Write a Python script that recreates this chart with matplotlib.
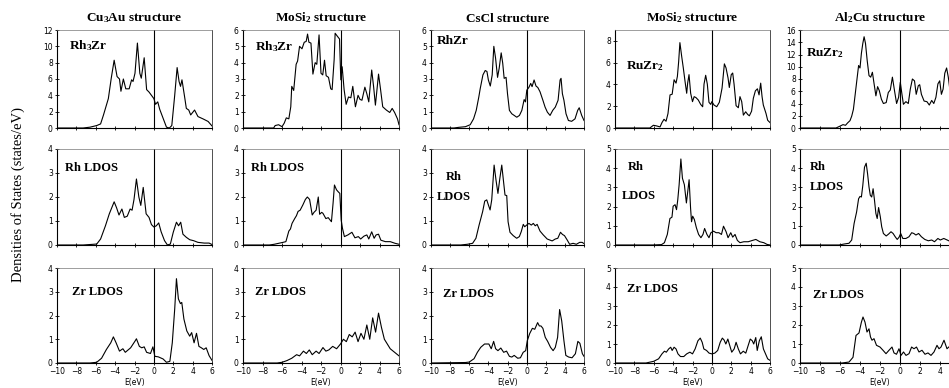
import matplotlib
matplotlib.use("Agg")
import matplotlib.pyplot as plt

# ---- data (E in eV, DOS in states/eV) ----

# Cu3Au structure, Rh3Zr
e_cu3au_tot = [-10, -7.3, -6.6, -5.9, -5.5, -5.2, -4.7, -4.4, -4.1, -3.8, -3.55, -3.4, -3.15, -2.9,
               -2.55, -2.3, -2.15, -1.95, -1.7, -1.45, -1.3, -1.0, -0.75, -0.5, -0.25, 0.0, 0.17,
               0.4, 0.6, 0.95, 1.3, 1.6, 1.85, 2.15, 2.4, 2.6, 2.75, 2.9, 3.2, 3.35, 3.6, 3.8, 4.2,
               4.55, 5.1, 5.6, 6.0]
dos_cu3au_tot = [0, 0, 0.1, 0.3, 0.5, 1.6, 3.6, 6.1, 8.3, 6.3, 6.0, 4.5, 6.0, 4.8,
                 4.8, 5.9, 5.7, 6.7, 10.4, 6.7, 6.1, 8.6, 4.7, 4.4, 4.0, 3.6, 2.9,
                 3.2, 2.3, 1.2, 0.1, 0.0, 0.3, 4.0, 7.4, 5.7, 5.1, 5.9, 3.6, 2.4, 2.2, 1.6, 2.2,
                 1.4, 1.1, 0.8, 0.25]

e_cu3au_rh = [-10, -7.3, -5.9, -5.5, -5.0, -4.6, -4.1, -3.85, -3.6, -3.3, -3.05, -2.75, -2.45,
              -2.25, -2.05, -1.8, -1.55, -1.35, -1.1, -0.8, -0.5, -0.25, 0.0, 0.25, 0.5, 0.75,
              1.1, 1.4, 1.7, 2.0, 2.33, 2.55, 2.77, 3.0, 3.35, 3.7, 4.1, 4.55, 5.2, 5.7, 6.0]
dos_cu3au_rh = [0, 0, 0.04, 0.25, 0.8, 1.3, 1.8, 1.55, 1.25, 1.5, 1.15, 1.2, 1.5,
                1.45, 1.9, 2.75, 2.0, 1.65, 2.4, 1.3, 1.15, 0.85, 0.75, 0.8, 0.92, 0.55,
                0.18, 0.0, 0.04, 0.53, 0.95, 0.8, 0.95, 0.45, 0.32, 0.22, 0.18, 0.11, 0.08, 0.08, 0.02]

e_cu3au_zr = [-10, -6.6, -5.9, -5.4, -4.9, -4.45, -4.18, -3.9, -3.55, -3.2, -2.95, -2.4, -1.95,
              -1.8, -1.5, -1.25, -1.0, -0.75, -0.35, -0.1, 0.1, 0.45, 0.95, 1.3, 1.65, 1.9, 2.15,
              2.33, 2.53, 2.74, 2.88, 3.1, 3.4, 3.7, 3.9, 4.15, 4.4, 4.65, 4.9, 5.15, 5.4, 5.7, 6.0]
dos_cu3au_zr = [0, 0, 0.03, 0.2, 0.57, 0.85, 1.1, 0.85, 0.5, 0.6, 0.45, 0.64, 0.92,
                1.02, 0.7, 0.64, 0.68, 0.45, 0.4, 0.68, 0.28, 0.26, 0.17, 0.03, 0.07, 0.85, 2.27,
                3.55, 2.7, 2.5, 2.55, 1.85, 1.35, 1.13, 1.28, 0.85, 1.25, 0.7, 0.64, 0.57, 0.64, 0.31, 0.11]

# MoSi2 structure, Rh3Zr
e_mosi2_tot = [-10, -6.86, -6.7, -6.35, -6.0, -5.77, -5.56, -5.3, -5.1, -5.0, -4.8, -4.55, -4.4,
               -4.2, -3.95, -3.72, -3.52, -3.38, -3.24, -3.03, -2.83, -2.6, -2.43, -2.2, -2.0,
               -1.82, -1.64, -1.47, -1.23, -1.0, -0.86, -0.65, -0.55, -0.3, -0.1, 0.03, 0.17,
               0.37, 0.58, 0.82, 1.06, 1.26, 1.53, 1.8, 2.0, 2.2, 2.5, 2.7, 2.9, 3.2, 3.4, 3.58,
               3.7, 3.9, 4.1, 4.33, 4.7, 5.05, 5.3, 5.55, 5.85, 6.0]
dos_mosi2_tot = [0, 0, 0.15, 0.2, 0.08, 0.3, 0.62, 0.56, 1.3, 2.55, 2.3, 3.9, 4.1,
                 5.0, 4.85, 5.25, 5.3, 5.75, 5.25, 5.2, 3.3, 4.0, 3.9, 5.7, 3.35,
                 3.25, 4.15, 3.2, 3.1, 2.4, 2.35, 4.2, 5.8, 5.6, 5.45, 2.95, 3.75,
                 2.35, 1.45, 1.9, 1.85, 2.55, 1.3, 2.0, 1.75, 1.7, 2.5, 2.1, 1.6, 3.55, 2.5, 1.4,
                 2.1, 3.3, 2.4, 1.3, 1.1, 0.95, 1.2, 0.95, 0.55, 0.2]

e_mosi2_rh = [-10, -7.3, -6.8, -5.9, -5.6, -5.3, -5.13, -4.97, -4.7, -4.52, -4.35, -4.14, -3.86,
              -3.6, -3.4, -3.17, -2.9, -2.72, -2.5, -2.28, -2.14, -1.93, -1.8, -1.5, -1.26,
              -0.93, -0.76, -0.62, -0.41, -0.24, -0.07, 0.07, 0.2, 0.4, 0.76, 1.17, 1.48, 1.83,
              2.07, 2.41, 2.7, 2.9, 3.2, 3.45, 3.65, 3.9, 4.14, 4.6, 5.1, 5.6, 6.0]
dos_mosi2_rh = [0, 0, 0.03, 0.11, 0.14, 0.58, 0.67, 0.9, 1.1, 1.22, 1.4, 1.45, 1.67,
                1.9, 2.0, 1.9, 1.25, 1.36, 1.45, 2.0, 1.28, 1.36, 1.32, 1.1, 1.14,
                0.97, 1.75, 2.5, 2.3, 2.22, 2.15, 1.04, 0.7, 0.35, 0.42, 0.53, 0.3, 0.35,
                0.25, 0.37, 0.42, 0.25, 0.55, 0.28, 0.42, 0.45, 0.2, 0.14, 0.14, 0.07, 0.03]

e_mosi2_zr = [-10, -6.5, -6.0, -5.5, -5.0, -4.5, -4.2, -3.8, -3.5, -3.2, -2.9, -2.5, -2.2, -1.8,
              -1.5, -1.2, -0.8, -0.4, 0.0, 0.3, 0.6, 0.9, 1.2, 1.5, 1.8, 2.1, 2.4, 2.7, 3.0,
              3.3, 3.6, 3.9, 4.2, 4.5, 4.8, 5.1, 5.4, 5.7, 6.0]
dos_mosi2_zr = [0, 0, 0.03, 0.1, 0.2, 0.35, 0.3, 0.5, 0.4, 0.55, 0.35, 0.5, 0.4, 0.65,
                0.5, 0.55, 0.7, 0.6, 0.8, 1.0, 0.9, 1.2, 1.1, 1.3, 0.9, 1.25, 1.0, 1.6, 1.0,
                1.9, 1.3, 2.1, 1.5, 1.0, 0.8, 0.6, 0.5, 0.4, 0.3]

# CsCl structure, RhZr
e_cscl_tot = [-10, -7.6, -7.1, -6.4, -5.9, -5.55, -5.27, -5.0, -4.85, -4.57, -4.33, -4.15, -4.0,
              -3.8, -3.6, -3.43, -3.25, -3.04, -2.87, -2.66, -2.5, -2.35, -2.15, -2.0, -1.8,
              -1.55, -1.3, -1.03, -0.75, -0.5, -0.26, -0.12, 0.02, 0.23, 0.43, 0.57, 0.78, 0.98,
              1.17, 1.4, 1.7, 1.93, 2.17, 2.45, 2.73, 3.0, 3.29, 3.5, 3.6, 3.74, 3.9, 4.12, 4.37,
              4.71, 5.06, 5.34, 5.5, 5.76, 6.0]
dos_cscl_tot = [0, 0, 0.04, 0.08, 0.2, 0.56, 1.08, 1.9, 2.42, 3.25, 3.52, 3.46, 2.94,
                2.57, 3.25, 5.0, 4.29, 3.1, 3.66, 4.6, 3.97, 3.04, 3.1, 2.1, 1.08,
                0.87, 0.77, 0.66, 0.77, 1.08, 1.74, 1.6, 2.32, 2.48, 2.73, 2.53, 2.94, 2.57,
                2.48, 2.22, 1.7, 1.28, 0.97, 0.77, 1.08, 1.28, 1.7, 2.94, 3.04, 2.1, 1.7, 0.87, 0.46,
                0.41, 0.56, 1.08, 1.24, 0.77, 0.46]

e_cscl_rh = [-10, -6.9, -6.2, -5.65, -5.3, -4.97, -4.6, -4.38, -4.17, -4.0, -3.82, -3.65, -3.4,
             -3.2, -3.0, -2.8, -2.6, -2.43, -2.26, -2.08, -1.94, -1.74, -1.4, -1.04, -0.76,
             -0.56, -0.35, -0.2, 0.0, 0.24, 0.49, 0.7, 0.9, 1.1, 1.4, 1.74, 2.15, 2.67, 3.0,
             3.26, 3.54, 3.75, 3.96, 4.24, 4.5, 4.86, 5.2, 5.55, 5.8, 6.0]
dos_cscl_rh = [0, 0, 0.03, 0.07, 0.28, 0.83, 1.39, 1.83, 1.88, 1.67, 1.46, 1.88, 3.33,
               2.7, 2.15, 2.78, 3.33, 2.7, 2.08, 2.06, 0.97, 0.53, 0.39, 0.28, 0.35,
               0.56, 0.86, 0.76, 0.83, 0.9, 0.83, 0.9, 0.8, 0.86, 0.58, 0.42, 0.25, 0.17, 0.25,
               0.28, 0.53, 0.44, 0.39, 0.21, 0.03, 0.07, 0.03, 0.11, 0.11, 0.06]

e_cscl_zr = [-10, -6.4, -6.0, -5.5, -5.15, -4.8, -4.4, -3.95, -3.7, -3.45, -3.24, -3.0, -2.7,
             -2.4, -2.1, -1.8, -1.55, -1.3, -0.93, -0.65, -0.36, -0.1, 0.07, 0.32, 0.6, 0.85,
             1.15, 1.33, 1.5, 1.7, 1.95, 2.2, 2.5, 2.77, 3.0, 3.24, 3.45, 3.67, 3.9, 4.1, 4.4,
             4.75, 5.1, 5.36, 5.57, 5.83, 6.0]
dos_cscl_zr = [0, 0.02, 0.04, 0.18, 0.45, 0.66, 0.8, 0.8, 0.6, 0.91, 0.6, 0.52, 0.63,
               0.45, 0.5, 0.28, 0.25, 0.32, 0.2, 0.22, 0.45, 0.52, 0.94, 1.24, 1.46, 1.42,
               1.7, 1.56, 1.56, 1.46, 1.08, 0.91, 0.66, 0.52, 0.66, 1.08, 2.25, 1.77, 0.94, 0.32, 0.25,
               0.22, 0.39, 0.91, 0.83, 0.39, 0.28]

# MoSi2 structure, RuZr2
e_ruzr2a_tot = [-10, -6.4, -6.04, -5.7, -5.35, -5.15, -4.94, -4.73, -4.53, -4.32, -4.1, -3.9,
                -3.7, -3.56, -3.43, -3.3, -3.12, -2.95, -2.77, -2.6, -2.5, -2.36, -2.19, -2.0,
                -1.83, -1.64, -1.4, -1.16, -0.95, -0.81, -0.64, -0.47, -0.3, -0.12, 0.0, 0.22,
                0.5, 0.77, 1.05, 1.29, 1.46, 1.67, 1.8, 2.0, 2.15, 2.29, 2.5, 2.73, 2.9, 3.08,
                3.25, 3.49, 3.7, 3.87, 4.1, 4.28, 4.49, 4.7, 4.87, 5.04, 5.18, 5.31, 5.59, 5.76, 6.0]
dos_ruzr2a_tot = [0, 0, 0.25, 0.19, 0.1, 0.5, 0.8, 0.62, 1.33, 3.04, 3.1, 4.43,
                  4.12, 4.74, 6.08, 7.84, 6.6, 5.52, 4.28, 3.19, 4.12, 4.9, 3.19, 2.42,
                  2.88, 2.79, 2.57, 2.17, 1.95, 4.03, 4.84, 4.03, 2.36, 2.17, 2.42, 2.11,
                  1.95, 2.36, 3.66, 5.89, 5.52, 4.59, 3.72, 4.9, 5.05, 4.03, 2.05, 1.86, 2.88, 2.42,
                  1.18, 1.49, 1.24, 1.12, 1.55, 2.73, 3.41, 3.6, 3.04, 4.12, 2.88, 2.11, 1.33, 0.71, 0.5]

e_ruzr2a_rh = [-10, -6.1, -5.2, -4.9, -4.6, -4.33, -4.12, -4.0, -3.8, -3.65, -3.52, -3.38, -3.2,
               -3.04, -2.84, -2.63, -2.49, -2.35, -2.2, -2.1, -1.98, -1.81, -1.6, -1.37, -1.13,
               -0.92, -0.75, -0.51, -0.3, -0.1, 0.17, 0.44, 0.72, 0.99, 1.2, 1.47, 1.67, 1.95,
               2.15, 2.39, 2.63, 2.9, 3.3, 3.75, 4.2, 4.54, 4.95, 5.36, 5.7, 6.0]
dos_ruzr2a_rh = [0, 0, 0.02, 0.12, 0.55, 1.38, 1.45, 2.02, 2.1, 1.84, 2.36, 3.14, 4.48,
                 3.48, 3.14, 2.19, 2.79, 3.4, 1.93, 1.21, 1.5, 1.33, 0.9, 0.55, 0.38,
                 0.55, 0.86, 0.55, 0.38, 0.64, 0.72, 0.64, 0.64, 0.55, 0.98, 0.69, 0.38, 0.64,
                 0.41, 0.55, 0.24, 0.12, 0.17, 0.17, 0.24, 0.29, 0.17, 0.12, 0.03, 0.0]

e_ruzr2a_zr = [-10, -6.8, -6.0, -5.5, -5.15, -4.9, -4.7, -4.46, -4.25, -4.1, -3.9, -3.7, -3.5,
               -3.24, -2.9, -2.6, -2.27, -2.0, -1.73, -1.44, -1.2, -1.0, -0.83, -0.55, -0.29,
               0.0, 0.3, 0.6, 0.86, 1.08, 1.26, 1.44, 1.65, 1.85, 2.05, 2.3, 2.5, 2.73, 2.95,
               3.24, 3.5, 3.74, 3.96, 4.17, 4.32, 4.53, 4.68, 4.9, 5.1, 5.32, 5.54, 5.76, 6.0]
dos_ruzr2a_zr = [0, 0, 0.09, 0.22, 0.48, 0.62, 0.57, 0.74, 0.83, 0.66, 0.83, 0.74, 0.48,
                 0.34, 0.34, 0.48, 0.57, 0.48, 0.74, 1.17, 1.31, 1.09, 0.74, 0.66, 0.52,
                 0.48, 0.52, 0.66, 1.09, 1.31, 1.21, 1.0, 1.26, 0.91, 0.57, 0.74, 1.09, 0.74, 0.48,
                 0.62, 0.52, 0.91, 1.26, 1.17, 1.0, 1.34, 0.66, 1.17, 1.38, 0.74, 0.48, 0.22, 0.14]

# Al2Cu structure, RuZr2
e_ruzr2b_tot = [-10, -6.4, -6.03, -5.7, -5.45, -5.24, -5.0, -4.83, -4.66, -4.48, -4.3, -4.14,
                -4.0, -3.86, -3.72, -3.59, -3.45, -3.28, -3.1, -2.93, -2.76, -2.59, -2.41, -2.24,
                -2.07, -1.86, -1.66, -1.38, -1.17, -0.97, -0.76, -0.55, -0.34, -0.14, 0.03, 0.17,
                0.34, 0.59, 0.83, 1.03, 1.24, 1.45, 1.62, 1.83, 1.97, 2.14, 2.41, 2.69, 2.93, 3.17,
                3.38, 3.59, 3.79, 3.97, 4.14, 4.31, 4.48, 4.66, 4.83, 5.0, 5.24, 5.6]
dos_ruzr2b_tot = [0, 0, 0.28, 0.55, 0.44, 0.83, 1.2, 1.93, 3.04, 5.5, 8.0, 10.2,
                  9.8, 12.2, 13.8, 14.9, 13.8, 11.0, 8.56, 8.3, 9.1, 7.2, 5.25, 6.75,
                  6.1, 4.7, 4.0, 4.15, 5.8, 6.2, 8.3, 6.1, 4.0, 5.0, 7.46, 5.8,
                  3.87, 4.3, 4.0, 6.35, 8.0, 7.7, 5.5, 6.9, 7.07, 5.5, 4.4, 4.3, 3.75, 4.5,
                  4.0, 5.0, 7.2, 7.7, 5.5, 6.35, 8.95, 9.8, 8.3, 6.1, 3.87, 3.5]

e_ruzr2b_rh = [-10, -6.1, -5.6, -5.1, -4.83, -4.59, -4.34, -4.14, -4.0, -3.86, -3.72, -3.55,
               -3.38, -3.24, -3.1, -2.97, -2.83, -2.69, -2.55, -2.41, -2.28, -2.14, -1.97, -1.83,
               -1.66, -1.38, -1.14, -0.9, -0.69, -0.48, -0.28, -0.1, 0.07, 0.28, 0.59, 0.9, 1.17,
               1.38, 1.59, 1.86, 2.14, 2.48, 2.83, 3.17, 3.45, 3.79, 4.03, 4.38, 4.72, 5.07, 5.5, 6.0]
dos_ruzr2b_rh = [0, 0, 0.05, 0.09, 0.26, 1.12, 1.72, 2.41, 2.53, 2.5, 3.1, 4.05,
                 4.26, 3.7, 3.02, 2.59, 2.5, 2.93, 2.33, 1.64, 1.38, 1.95, 1.47, 0.95,
                 0.6, 0.47, 0.57, 0.69, 0.6, 0.43, 0.29, 0.4, 0.6, 0.34, 0.34, 0.43, 0.64,
                 0.6, 0.52, 0.6, 0.43, 0.29, 0.22, 0.26, 0.17, 0.34, 0.26, 0.34, 0.26, 0.17, 0.12, 0.1]

e_ruzr2b_zr = [-10, -5.8, -5.1, -4.7, -4.56, -4.4, -4.1, -3.86, -3.7, -3.5, -3.3, -3.1, -2.95,
               -2.8, -2.6, -2.35, -2.0, -1.7, -1.4, -1.1, -0.8, -0.6, -0.35, -0.1, 0.1, 0.35,
               0.6, 0.9, 1.16, 1.4, 1.65, 1.9, 2.2, 2.5, 2.8, 3.1, 3.4, 3.7, 3.9, 4.1, 4.4,
               4.7, 5.0, 5.3, 5.6, 6.0]
dos_ruzr2b_zr = [0, 0, 0.05, 0.3, 0.84, 1.45, 1.58, 2.15, 2.42, 2.15, 1.63, 1.8, 1.37,
                 1.2, 1.28, 0.93, 0.84, 0.67, 0.49, 0.67, 0.84, 0.53, 0.46, 0.75, 0.4, 0.58,
                 0.4, 0.49, 0.84, 0.75, 0.84, 0.58, 0.67, 0.46, 0.53, 0.4, 0.58, 0.93, 0.75, 0.84, 1.2,
                 0.75, 0.9, 0.6, 0.7, 0.6]

titles = ["Cu$_3$Au structure", "MoSi$_2$ structure", "CsCl structure",
          "MoSi$_2$ structure", "Al$_2$Cu structure"]
compounds = ["Rh$_3$Zr", "Rh$_3$Zr", "RhZr", "RuZr$_2$", "RuZr$_2$"]
ymax = [[12, 4, 4], [6, 4, 4], [6, 4, 4], [9, 5, 5], [16, 5, 5]]
ystep = [[2, 1, 1], [1, 1, 1], [1, 1, 1], [2, 1, 1], [2, 1, 1]]
xticks = list(range(-10, 7, 2))

curves = [
    [(e_cu3au_tot, dos_cu3au_tot), (e_cu3au_rh, dos_cu3au_rh), (e_cu3au_zr, dos_cu3au_zr)],
    [(e_mosi2_tot, dos_mosi2_tot), (e_mosi2_rh, dos_mosi2_rh), (e_mosi2_zr, dos_mosi2_zr)],
    [(e_cscl_tot, dos_cscl_tot), (e_cscl_rh, dos_cscl_rh), (e_cscl_zr, dos_cscl_zr)],
    [(e_ruzr2a_tot, dos_ruzr2a_tot), (e_ruzr2a_rh, dos_ruzr2a_rh), (e_ruzr2a_zr, dos_ruzr2a_zr)],
    [(e_ruzr2b_tot, dos_ruzr2b_tot), (e_ruzr2b_rh, dos_ruzr2b_rh), (e_ruzr2b_zr, dos_ruzr2b_zr)],
]

# serif bold for labels incl. the subscripts
serif = "Liberation Serif"
plt.rcParams["mathtext.fontset"] = "custom"
plt.rcParams["mathtext.rm"] = serif + ":bold"
plt.rcParams["mathtext.bf"] = serif + ":bold"
plt.rcParams["mathtext.it"] = serif + ":bold"
plt.rcParams["mathtext.default"] = "bf"

# ---- layout (pixels of a 949x388 canvas) ----
W, H = 949, 388
col_x = [57, 243, 431, 615, 800]
col_w = [155, 156, 153, 155, 160]
row_top = [30, 149, 268]
row_bot = [128, 245, 363]

fig = plt.figure(figsize=(W / 100, H / 100), dpi=100)

# label placement inside panels: (text, x frac, y frac, ha)
row2_labels = [
    [("Rh LDOS", 0.05, 0.80, "left")],
    [("Rh LDOS", 0.05, 0.80, "left")],
    [("Rh", 0.15, 0.71, "center"), ("LDOS", 0.15, 0.50, "center")],
    [("Rh", 0.08, 0.81, "left"), ("LDOS", 0.045, 0.51, "left")],
    [("Rh", 0.06, 0.81, "left"), ("LDOS", 0.06, 0.60, "left")],
]
row1_pos = [(0.08, 0.84), (0.08, 0.83), (0.04, 0.89), (0.07, 0.63), (0.04, 0.76)]
row3_pos = [(0.10, 0.75), (0.08, 0.75), (0.08, 0.73), (0.08, 0.78), (0.08, 0.72)]

for c in range(5):
    for r in range(3):
        left = col_x[c] / W
        bottom = 1 - row_bot[r] / H
        ax = fig.add_axes([left, bottom, col_w[c] / W, (row_bot[r] - row_top[r]) / H])
        e, d = curves[c][r]
        ax.plot(e, d, color="black", lw=0.8)
        ax.axvline(0, color="black", lw=0.8)
        ax.set_xlim(-10, 6)
        ax.set_ylim(0, ymax[c][r])
        ax.set_xticks(xticks)
        ax.set_yticks(range(0, ymax[c][r] + 1, ystep[c][r]))
        ax.tick_params(direction="inout", length=3, width=0.6, labelsize=5.5,
                       pad=1.5, colors="black")
        if r < 2:
            ax.set_xticklabels([])
        else:
            labels = [str(v).replace("-", "\u2212") for v in xticks]
            if c == 4:
                labels[-1] = ""  # cut off by the page edge in the scan
            ax.set_xticklabels(labels)
            ax.set_xlabel("E(eV)", fontsize=5.5, labelpad=1)
        ax.spines["left"].set_linewidth(0.8)
        ax.spines["bottom"].set_linewidth(0.8)
        ax.spines["top"].set_linewidth(0.5)
        ax.spines["top"].set_color("#777777")
        ax.spines["right"].set_linewidth(0.6)
        ax.spines["right"].set_color("#333333")

        if r == 0:
            ax.set_title(titles[c], fontsize=9.5, fontweight="bold", family=serif, pad=6)
            x, y = row1_pos[c]
            ax.text(x, y, compounds[c], transform=ax.transAxes, fontsize=9.5,
                    fontweight="bold", family=serif, va="center")
        elif r == 1:
            for txt, x, y, ha in row2_labels[c]:
                ax.text(x, y, txt, transform=ax.transAxes, fontsize=9,
                        fontweight="bold", family=serif, va="center", ha=ha)
        else:
            x, y = row3_pos[c]
            ax.text(x, y, "Zr LDOS", transform=ax.transAxes, fontsize=9,
                    fontweight="bold", family=serif, va="center")

fig.text(18 / W, 1 - 195 / H, "Densities of States (states/eV)", rotation=90,
         ha="center", va="center", fontsize=10.5, family=serif)

fig.savefig("out.png", dpi=100)
